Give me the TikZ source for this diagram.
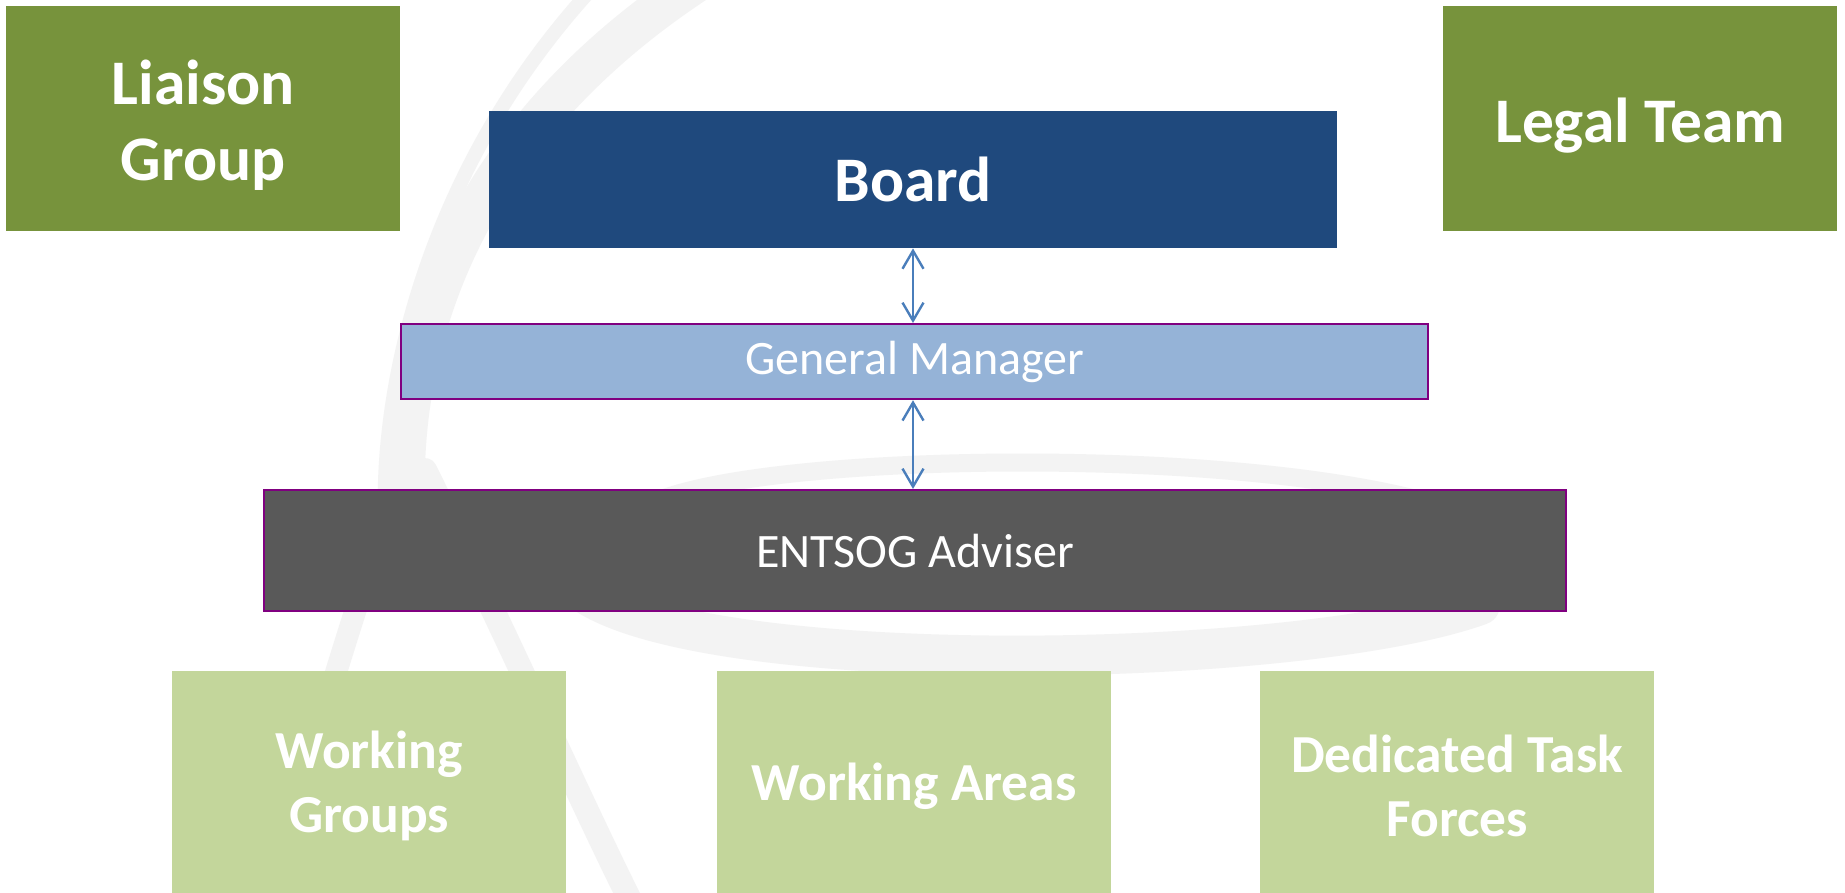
\documentclass[tikz,border=0pt]{standalone}
\usepackage{fontspec}
\setmainfont{Carlito}
\usetikzlibrary{arrows.meta}
\definecolor{olivegreen}{HTML}{77933C}
\definecolor{boardblue}{HTML}{1F497D}
\definecolor{gmblue}{HTML}{95B3D7}
\definecolor{advgray}{HTML}{595959}
\definecolor{lightgreen}{HTML}{C3D69B}
\definecolor{edgepurple}{HTML}{800080}
\definecolor{arrowblue}{HTML}{4A7EBB}
\definecolor{wmgray}{HTML}{F3F3F3}
\newcommand{\lowerby}{\rule{0pt}{58pt}}
\tikzset{
  box/.style={rectangle, inner sep=0pt, anchor=north west, align=center, text=white},
  topbox/.style={box, fill=olivegreen, font=\fontsize{63.5}{76}\selectfont\bfseries},
  boardbox/.style={box, fill=boardblue, font=\fontsize{63.5}{76}\selectfont\bfseries},
  midbox/.style={box, draw=edgepurple, line width=2.2pt, font=\fontsize{48}{56}\selectfont},
  lowbox/.style={box, fill=lightgreen, font=\fontsize{53.5}{64}\selectfont\bfseries},
  link/.style={draw=arrowblue, line width=2.4pt,
    {Straight Barb[length=18pt,width=21pt,line width=2.4pt]}-{Straight Barb[length=18pt,width=21pt,line width=2.4pt]}},
  wm/.style={draw=wmgray, line cap=round}
}
\begin{document}
\begin{tikzpicture}[x=1pt,y=-1pt]
\useasboundingbox (0,0) rectangle (1845,893);
\fill[white] (0,0) rectangle (1845,893);
% faint watermark
\draw[wm, line width=40pt] (700,-20) .. controls (470,130) and (400,330) .. (405,500);
\draw[wm, line width=14pt] (600,-20) .. controls (430,160) and (380,380) .. (385,520);
\draw[wm, line width=24pt] (425,470) .. controls (500,620) and (580,800) .. (630,900);
\draw[wm, line width=22pt] (400,470) .. controls (360,600) and (310,740) .. (275,900);
\draw[wm, line width=18pt] (640,510) .. controls (720,450) and (1300,440) .. (1480,520);
\draw[wm, line width=40pt] (580,590) .. controls (700,680) and (1300,670) .. (1480,605);
\draw[wm, line width=14pt] (640,510) .. controls (590,540) and (570,570) .. (580,590);
\draw[wm, line width=16pt] (1480,520) .. controls (1530,545) and (1520,585) .. (1480,605);
% nodes
\node[topbox, minimum width=394pt, minimum height=225pt] (liaison) at (6,6) {\lowerby Liaison\\Group};
\node[topbox, minimum width=394pt, minimum height=225pt] (legal) at (1443,6) {\lowerby Legal Team};
\node[boardbox, minimum width=848pt, minimum height=137pt] (board) at (489,111) {Board};
\node[midbox, fill=gmblue, minimum width=1027pt, minimum height=75pt] (gm) at (400,323) {General Manager};
\node[midbox, fill=advgray, minimum width=1302pt, minimum height=121pt] (adv) at (263,489) {ENTSOG Adviser};
\node[lowbox, minimum width=394pt, minimum height=230pt] (wg) at (172,671) {Working\\Groups};
\node[lowbox, minimum width=394pt, minimum height=230pt] (wa) at (717,671) {Working Areas};
\node[lowbox, minimum width=394pt, minimum height=230pt] (dtf) at (1260,671) {Dedicated Task\\Forces};
% connectors
\coordinate (a1) at (913,0);
\draw[link] (board.south -| a1) -- (gm.north -| a1);
\draw[link] (gm.south -| a1) -- (adv.north -| a1);
\end{tikzpicture}
\end{document}
